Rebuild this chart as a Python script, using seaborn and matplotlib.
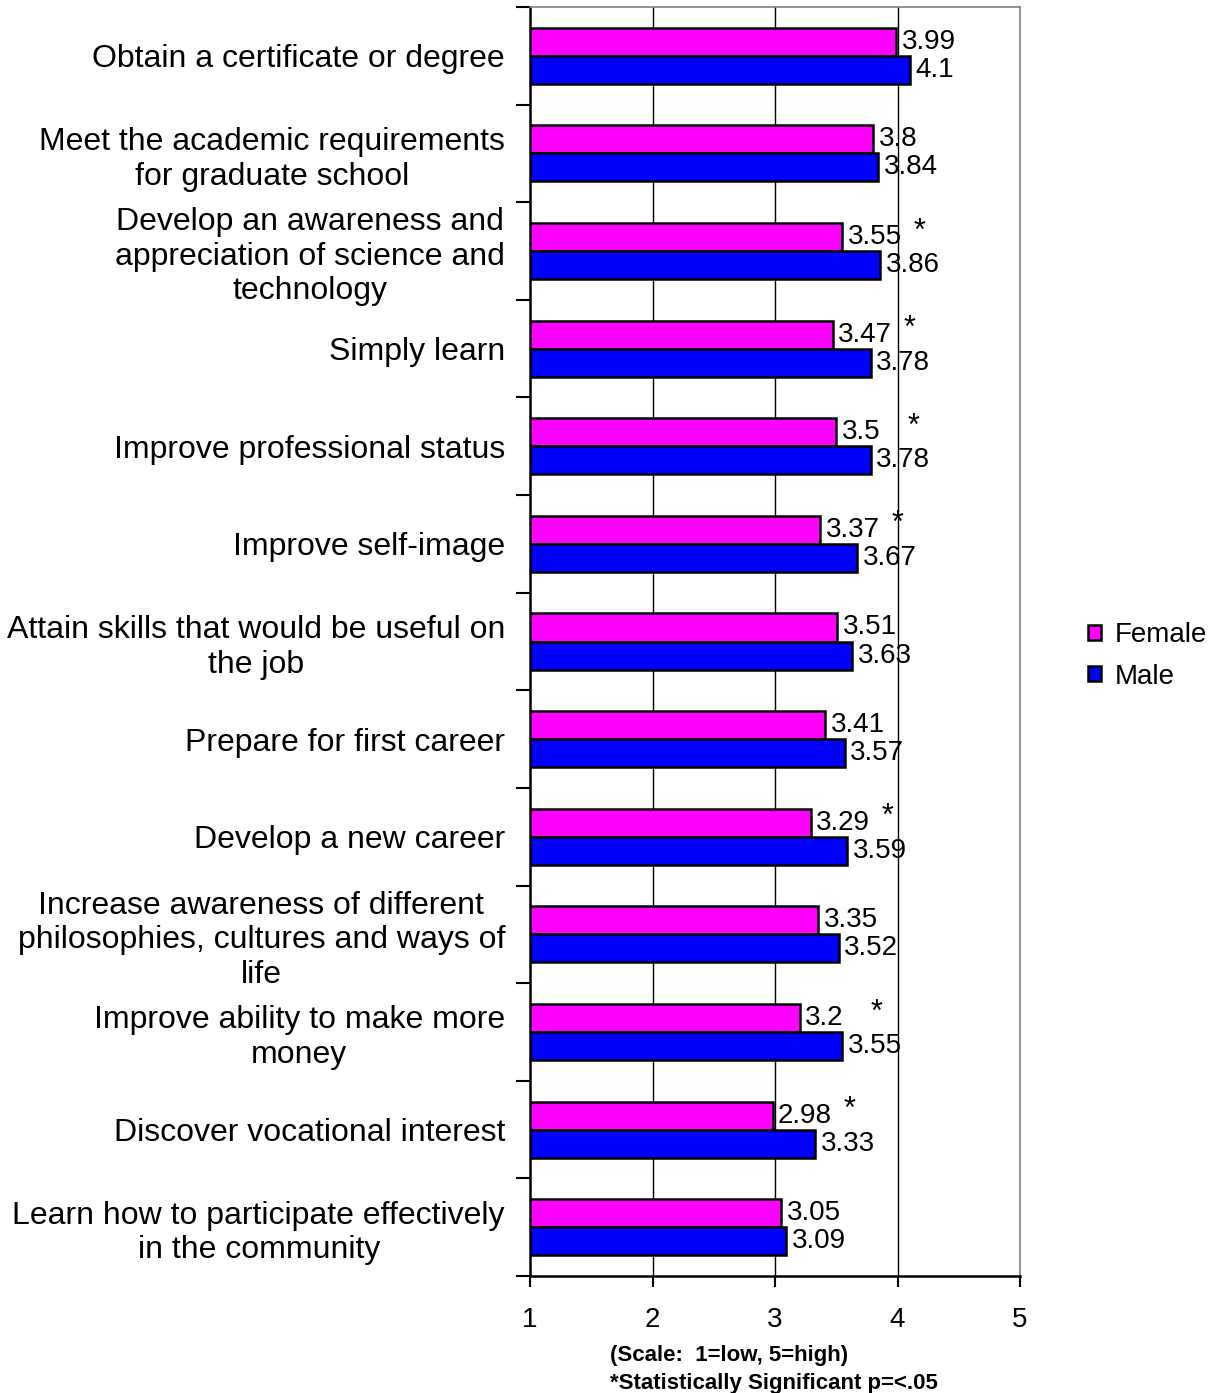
import pandas as pd
import matplotlib.pyplot as plt
import seaborn as sns
from matplotlib.patches import Patch

# Survey reasons (top to bottom) and mean ratings
reasons = [
    "Obtain a certificate or degree",
    "Meet the academic requirements\nfor graduate school",
    "Develop an awareness and\nappreciation of science and\ntechnology",
    "Simply learn",
    "Improve professional status",
    "Improve self-image",
    "Attain skills that would be useful on\nthe job",
    "Prepare for first career",
    "Develop a new career",
    "Increase awareness of different\nphilosophies, cultures and ways of\nlife",
    "Improve ability to make more\nmoney",
    "Discover vocational interest",
    "Learn how to participate effectively\nin the community",
]
female = [3.99, 3.8, 3.55, 3.47, 3.5, 3.37, 3.51, 3.41, 3.29, 3.35, 3.2, 2.98, 3.05]
male = [4.1, 3.84, 3.86, 3.78, 3.78, 3.67, 3.63, 3.57, 3.59, 3.52, 3.55, 3.33, 3.09]
significant = [False, False, True, True, True, True, False, False, True, False, True, True, False]
x_ticks = [1, 2, 3, 4, 5]

df = pd.DataFrame({
    "reason": reasons * 2,
    "gender": ["Female"] * len(reasons) + ["Male"] * len(reasons),
    "rating": female + male,
})

sns.set_style("white")
plt.rcParams["font.family"] = ["Liberation Sans", "DejaVu Sans"]
plt.rcParams["text.color"] = "black"
plt.rcParams["xtick.color"] = "black"
plt.rcParams["ytick.color"] = "black"

fig = plt.figure(figsize=(12.14, 13.93), dpi=100)
ax = fig.add_axes([530 / 1214, 1 - 1276 / 1393, 490 / 1214, 1269 / 1393])

palette = {"Female": "#FF00FF", "Male": "#0000FF"}
sns.barplot(data=df, y="reason", x="rating", hue="gender", order=reasons,
            hue_order=["Female", "Male"], palette=palette, orient="h",
            width=0.575, edgecolor="black", linewidth=1.8, saturation=1,
            ax=ax, legend=False)

ax.set_xlim(1, 5)
ax.set_ylim(len(reasons) - 0.5, -0.5)
ax.set_xticks(x_ticks)
ax.set_xticklabels([str(t) for t in x_ticks], fontsize=20)
ax.tick_params(axis="x", bottom=True, length=8, width=1.5, color="black", pad=14)
ax.set_yticks(range(len(reasons)))
ax.set_yticklabels(reasons, fontsize=23, ha="right", multialignment="center")
ax.tick_params(axis="y", which="major", left=True, length=0, pad=18)
ax.set_yticks([i - 0.5 for i in range(len(reasons) + 1)], minor=True)
ax.tick_params(axis="y", which="minor", left=True, length=10, width=1.5, color="black")
ax.set_xlabel("")
ax.set_ylabel("")

for x in x_ticks[1:-1]:
    ax.axvline(x, color="black", linewidth=1, zorder=0)

for s in ["left", "bottom"]:
    ax.spines[s].set_color("black")
    ax.spines[s].set_linewidth(1.8)
for s in ["top", "right"]:
    ax.spines[s].set_color("#808080")
    ax.spines[s].set_linewidth(1.2)

for cont in ax.containers:
    ax.bar_label(cont, fmt="%g", padding=4, fontsize=20)

# significance stars
for i, sig in enumerate(significant):
    if sig:
        ax.text(female[i] + 0.63, i - 0.2, "*", fontsize=22, ha="center", va="center")

handles = [Patch(facecolor=palette[g], edgecolor="black", linewidth=1.8) for g in ["Female", "Male"]]
fig.legend(handles, ["Female", "Male"], loc="center left", bbox_to_anchor=(1063 / 1214, 1 - 656 / 1393),
           frameon=False, fontsize=20, handlelength=0.45, handleheight=0.45, handletextpad=0.5,
           labelspacing=0.55)

fig.text(610 / 1214, 1 - 1356 / 1393, "(Scale:  1=low, 5=high)", fontsize=16,
         fontweight="bold", ha="left", va="center")
fig.text(610 / 1214, 1 - 1383 / 1393, "*Statistically Significant p=<.05", fontsize=16,
         fontweight="bold", ha="left", va="center")

fig.savefig("out.png", dpi=100)
